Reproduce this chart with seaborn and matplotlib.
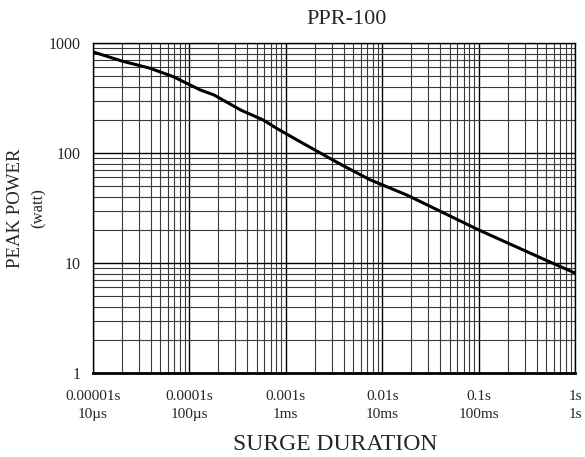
#!/usr/bin/env python3
"""PPR-100 peak power vs surge duration (log-log derating curve)."""
import matplotlib
import numpy as np
import pandas as pd

matplotlib.use("Agg")
import matplotlib.pyplot as plt  # noqa: E402
import seaborn as sns  # noqa: E402
from matplotlib.ticker import LogLocator, NullFormatter  # noqa: E402

# Curve (seconds, watts).
duration_s = [1e-5, 2e-5, 3.9e-5, 6.8e-5, 1.3e-4, 1.8e-4, 3.4e-4, 5.8e-4,
              8e-4, 1.4e-3, 3.6e-3, 7.5e-3, 1.8e-2, 0.1, 0.5, 1.0]
peak_w = [830, 685, 590, 494, 374, 337, 246, 200,
          168, 127, 80, 57, 41.5, 20, 10.6, 8.1]

x_ticks = [1e-5, 1e-4, 1e-3, 1e-2, 1e-1, 1.0]
x_labels = ["0.00001s\n10µs", "0.0001s\n100µs", "0.001s\n1ms",
            "0.01s\n10ms", "0.1s\n100ms", "1s\n1s"]
y_ticks = [1, 10, 100, 1000]
y_labels = ["1", "10", "100", "1000"]

sns.set_style("white")
plt.rcParams["font.family"] = ["Liberation Serif", "DejaVu Serif"]

df = pd.DataFrame({"t": duration_s, "p": peak_w})

fig = plt.figure(figsize=(5.85, 4.57), dpi=100)
ax = fig.add_axes([93 / 585, 1 - 373 / 457, 482 / 585, 330 / 457])

sns.lineplot(data=df, x="t", y="p", ax=ax, color="black", linewidth=2.2,
             zorder=5)
ax.set_xscale("log")
ax.set_yscale("log")
ax.set_xlim(1e-5, 1.0)
ax.set_ylim(1, 1000)

ax.xaxis.set_minor_locator(LogLocator(base=10, subs=np.arange(2, 10)))
ax.yaxis.set_minor_locator(LogLocator(base=10, subs=np.arange(2, 10)))
ax.xaxis.set_minor_formatter(NullFormatter())
ax.yaxis.set_minor_formatter(NullFormatter())
ax.set_xticks(x_ticks, x_labels, fontsize=11, linespacing=1.5)
ax.set_yticks(y_ticks, y_labels, fontsize=11.5)
ax.tick_params(axis="x", which="both", length=0, pad=12)
ax.tick_params(axis="y", which="both", length=0, pad=9)

ax.grid(which="major", color="black", linewidth=1.0)
ax.grid(which="minor", color="#3a3a3a", linewidth=0.8)
ax.set_axisbelow(True)

for side in ["top", "right", "left"]:
    ax.spines[side].set_color("black")
    ax.spines[side].set_linewidth(1.0)
ax.spines["bottom"].set_color("black")
ax.spines["bottom"].set_linewidth(2.0)

ax.set_xlabel("")
ax.set_ylabel("")
fig.text(347 / 585, 1 - 20 / 457, "PPR-100", fontsize=16,
         ha="center", va="center")
fig.text(335 / 585, 1 - 445 / 457, "SURGE DURATION", fontsize=17,
         ha="center", va="center")
fig.text(16 / 585, 1 - 208 / 457, "PEAK POWER", fontsize=13.5,
         rotation=90, ha="center", va="center")
fig.text(39 / 585, 1 - 208 / 457, "(watt)", fontsize=12,
         rotation=90, ha="center", va="center")

fig.savefig("out.png", dpi=100)
plt.close(fig)
